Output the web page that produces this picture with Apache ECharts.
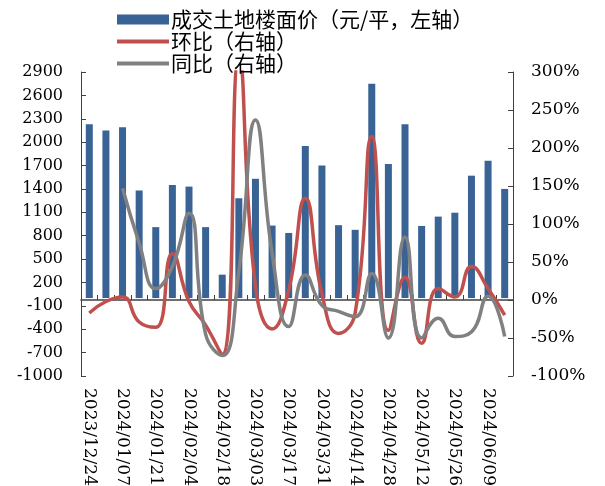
<!DOCTYPE html>
<html>
<head>
<meta charset="utf-8">
<script src="https://cdn.jsdelivr.net/npm/echarts@6/dist/echarts.min.js"></script>
<style>
html, body { margin: 0; padding: 0; background: #fff; }
#chart { width: 605px; height: 486px; }
</style>
</head>
<body>
<div id="chart"></div>
<script>
// weekly dates
var dates = ['2023/12/24','2023/12/31','2024/01/07','2024/01/14','2024/01/21','2024/01/28','2024/02/04','2024/02/11','2024/02/18','2024/02/25','2024/03/03','2024/03/10','2024/03/17','2024/03/24','2024/03/31','2024/04/07','2024/04/14','2024/04/21','2024/04/28','2024/05/05','2024/05/12','2024/05/19','2024/05/26','2024/06/02','2024/06/09','2024/06/16'];
// 成交土地楼面价 (元/平)
var price = [2230,2150,2190,1380,910,1450,1430,910,300,1280,1530,930,835,1950,1700,935,875,2750,1720,2230,925,1045,1095,1570,1760,1400];
// 环比 (%)
var mom = [-17,-2,4,-29,-36,61,-2,-33,-72,320,18,-38,13,134,8,-44,-17,215,-40,30,-57,15,4,44,15,-20];
// 同比 (%)
var yoy = ['-','-',147,75,15,44,114,-45,-73,38,237,62,-35,33,-7,-15,-22,35,-50,83,-50,-24,-48,-42,5,-48];

var fontFam = "'DejaVu Serif', 'Noto Sans CJK SC', serif";
var axisCol = '#404040';

var myChart = echarts.init(document.getElementById('chart'));
var option = {
    animation: false,
    textStyle: { fontFamily: fontFam },
    legend: {
        orient: 'vertical',
        left: 112,
        top: 4,
        itemWidth: 52,
        itemHeight: 10,
        itemGap: 1,
        textStyle: { fontSize: 21, color: '#000', fontFamily: "'Noto Sans CJK SC', serif", padding: [0, 0, 0, -3] },
        data: [
            { name: '成交土地楼面价（元/平，左轴）', icon: 'rect' },
            { name: '环比（右轴）', icon: 'path://M0,0 L52,0 L52,4 L0,4 Z', itemStyle: { color: '#C0504D' } },
            { name: '同比（右轴）', icon: 'path://M0,0 L52,0 L52,4 L0,4 Z', itemStyle: { color: '#808080' } }
        ]
    },
    grid: { left: 81, right: 92, top: 72, bottom: 110, outerBoundsMode: 'none', containLabel: false },
    xAxis: [
        {
            type: 'category',
            data: dates,
            position: 'bottom',
            axisLine: { show: false, onZero: false },
            axisTick: { show: false },
            axisLabel: {
                interval: 1,
                rotate: -90,
                fontSize: 17,
                color: '#000',
                margin: 12
            }
        },
        {
            type: 'category',
            data: dates,
            position: 'bottom',
            axisLine: { show: true, onZero: true, onZeroAxisIndex: 1, lineStyle: { color: axisCol, width: 1.5 } },
            axisTick: { show: true, inside: true, interval: 0, length: 5, lineStyle: { color: axisCol } },
            axisLabel: { show: false }
        }
    ],
    yAxis: [
        {
            type: 'value',
            min: -1000,
            max: 2900,
            interval: 300,
            splitLine: { show: false },
            axisLine: { show: true, lineStyle: { color: axisCol } },
            axisTick: { show: true, inside: true, length: 5, lineStyle: { color: axisCol } },
            axisLabel: { fontSize: 16, color: '#000', margin: 18, formatter: function (v) { return String(v); } }
        },
        {
            type: 'value',
            min: -100,
            max: 300,
            interval: 50,
            splitLine: { show: false },
            axisLine: { show: true, lineStyle: { color: axisCol } },
            axisTick: { show: true, inside: true, length: 5, lineStyle: { color: axisCol } },
            axisLabel: { fontSize: 17, color: '#000', margin: 18, formatter: '{value}%' }
        }
    ],
    series: [
        {
            name: '成交土地楼面价（元/平，左轴）',
            type: 'bar',
            data: price,
            barWidth: 7,
            itemStyle: { color: '#3A6395' }
        },
        {
            name: '环比（右轴）',
            type: 'line',
            yAxisIndex: 1,
            data: mom,
            smooth: 0.5,
            symbol: 'none',
            lineStyle: { color: '#C0504D', width: 3.5 },
            itemStyle: { color: '#C0504D' }
        },
        {
            name: '同比（右轴）',
            type: 'line',
            yAxisIndex: 1,
            data: yoy,
            smooth: 0.5,
            symbol: 'none',
            lineStyle: { color: '#808080', width: 3.5 },
            itemStyle: { color: '#808080' }
        }
    ]
};
myChart.setOption(option);
</script>
</body>
</html>
